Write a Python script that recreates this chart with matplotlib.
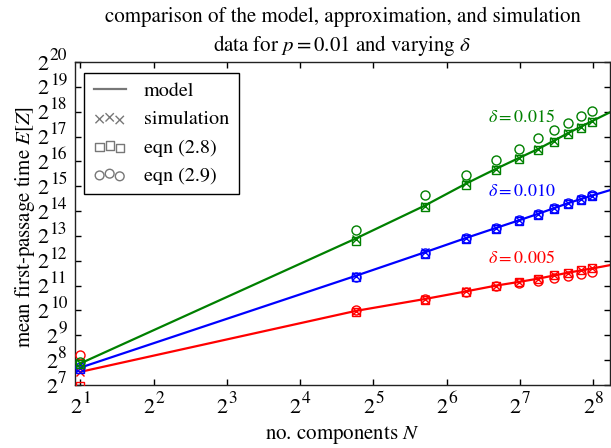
import matplotlib
matplotlib.use("Agg")
import matplotlib.pyplot as plt
from matplotlib.lines import Line2D
import numpy as np

plt.rcParams['font.family'] = ['STIXGeneral', 'DejaVu Serif']
plt.rcParams['mathtext.fontset'] = 'stix'

# data (log2 of E[Z])
N = [2, 27, 52, 77, 102, 127, 152, 177, 202, 227, 252]
N_model = [2, 27, 52, 77, 102, 127, 152, 177, 202, 227, 252, 277, 302]

g_model = [7.87, 12.89, 14.22, 15.11, 15.70, 16.14, 16.50, 16.84, 17.14, 17.39, 17.61, 17.81, 17.99]
g_sim = [7.87, 12.89, 14.22, 15.11, 15.70, 16.14, 16.50, 16.84, 17.14, 17.39, 17.61]
g_e28 = [7.84, 12.78, 14.15, 15.05, 15.64, 16.08, 16.45, 16.80, 17.10, 17.35, 17.57]
g_e29 = [7.92, 13.24, 14.63, 15.47, 16.07, 16.50, 16.94, 17.25, 17.55, 17.81, 18.01]

b_model = [7.70, 11.39, 12.34, 12.92, 13.32, 13.63, 13.89, 14.12, 14.32, 14.48, 14.62, 14.74, 14.85]
b_sim = [7.70, 11.39, 12.34, 12.92, 13.32, 13.63, 13.89, 14.12, 14.32, 14.48, 14.62]
b_e28 = [7.66, 11.33, 12.29, 12.88, 13.28, 13.60, 13.86, 14.09, 14.29, 14.46, 14.60]
b_e29 = [7.72, 11.36, 12.31, 12.90, 13.31, 13.63, 13.89, 14.12, 14.33, 14.50, 14.64]

r_model = [7.53, 9.98, 10.46, 10.77, 11.00, 11.15, 11.28, 11.41, 11.52, 11.61, 11.69, 11.76, 11.83]
r_sim = [7.53, 9.98, 10.46, 10.77, 11.00, 11.15, 11.28, 11.41, 11.52, 11.61, 11.69]
r_e28 = [6.95, 9.93, 10.43, 10.75, 10.99, 11.15, 11.28, 11.41, 11.52, 11.62, 11.70]
r_e29 = [8.19, 10.03, 10.47, 10.76, 10.97, 11.10, 11.20, 11.30, 11.39, 11.47, 11.55]

series = [
    ('#ff0000', r_model, r_sim, r_e28, r_e29, r'$\delta = 0.005$', 0.393),
    ('#0000ff', b_model, b_sim, b_e28, b_e29, r'$\delta = 0.010$', 0.598),
    ('#008000', g_model, g_sim, g_e28, g_e29, r'$\delta = 0.015$', 0.827),
]

# tick exponents (labels are 2^k)
x_exp = [1, 2, 3, 4, 5, 6, 7, 8]
y_exp = list(range(7, 21))

fig = plt.figure(figsize=(6.11, 4.48), dpi=100)
ax = fig.add_axes([75/611, 1-385/448, 535/611, 323/448])

for color, mod, sim, e28, e29, lab, ty in series:
    ax.plot(N_model, 2.0**np.array(mod), '-', color=color, lw=1.6, zorder=2)
    ax.plot(N, 2.0**np.array(sim), 'x', color=color, ms=6, mew=1.0, zorder=3)
    ax.plot(N, 2.0**np.array(e28), 's', mfc='none', mec=color, ms=6, mew=1.0, zorder=3)
    ax.plot(N, 2.0**np.array(e29), 'o', mfc='none', mec=color, ms=6.5, mew=1.0, zorder=3)
    ax.text(0.772, ty, lab, color=color, fontsize=13, transform=ax.transAxes,
            ha='left', va='center')

ax.set_xscale('log', base=2)
ax.set_yscale('log', base=2)
ax.set_xlim(1.9, 300)
ax.set_ylim(2**7, 2**20)
ax.set_xticks([2**k for k in x_exp])
ax.set_yticks([2**k for k in y_exp])
ax.minorticks_off()
ax.tick_params(direction='in', top=True, right=True, length=4, width=1,
               labelleft=False, labelbottom=False)
for s in ax.spines.values():
    s.set_linewidth(1.0)
    s.set_color('#222222')

# custom power-of-two tick labels (larger superscripts)
BASE_FS = 16
EXP_FS = 12.5
GAP = 0.6
renderer = fig.canvas.get_renderer()


def text_width_pt(s, size):
    t = fig.text(0, 0, s, fontsize=size)
    w = t.get_window_extent(renderer=renderer).width * 72.0 / fig.dpi
    t.remove()
    return w


ytr = ax.get_yaxis_transform()
for k in y_exp:
    we = text_width_pt(str(k), EXP_FS)
    pad = 5.8
    ax.annotate(str(k), xy=(0, 2**k), xycoords=ytr, xytext=(-pad, 1.6),
                textcoords='offset points', ha='right', va='baseline',
                fontsize=EXP_FS)
    ax.annotate('2', xy=(0, 2**k), xycoords=ytr, xytext=(-pad - we - GAP, -5.4),
                textcoords='offset points', ha='right', va='baseline',
                fontsize=BASE_FS)

xtr = ax.get_xaxis_transform()
for k in x_exp:
    wb = text_width_pt('2', BASE_FS)
    we = text_width_pt(str(k), EXP_FS)
    tot = wb + GAP + we
    ax.annotate('2', xy=(2**k, 0), xycoords=xtr, xytext=(-tot/2, -20.2),
                textcoords='offset points', ha='left', va='baseline',
                fontsize=BASE_FS)
    ax.annotate(str(k), xy=(2**k, 0), xycoords=xtr, xytext=(-tot/2 + wb + GAP, -12.6),
                textcoords='offset points', ha='left', va='baseline',
                fontsize=EXP_FS)

ax.set_xlabel(r'no. components $N$', fontsize=15)
ax.xaxis.set_label_coords(0.5, -0.122)
ax.set_ylabel(r'mean first-passage time $E[Z]$', fontsize=15)
ax.yaxis.set_label_coords(-0.071, 0.49)
ax.set_title('comparison of the model, approximation, and simulation\n'
             r'data for $p = 0.01$ and varying $\delta$', fontsize=15,
             linespacing=1.3, pad=8)

gray = '#777777'
handles = [
    Line2D([], [], color=gray, lw=1.6),
    ax.scatter([], [], marker='x', color=gray, s=36, linewidths=1.0),
    ax.scatter([], [], marker='s', facecolors='none', edgecolors=gray, s=36, linewidths=1.0),
    ax.scatter([], [], marker='o', facecolors='none', edgecolors=gray, s=40, linewidths=1.0),
]
leg = ax.legend(handles, ['model', 'simulation', 'eqn (2.8)', 'eqn (2.9)'],
                loc='upper left', bbox_to_anchor=(0.017, 0.967), borderaxespad=0,
                fontsize=14.5, scatterpoints=3, fancybox=False, framealpha=1,
                edgecolor='black', handlelength=1.6, handletextpad=0.9,
                labelspacing=0.5, borderpad=0.47)
leg.get_frame().set_linewidth(1.0)

fig.savefig('out.png', dpi=100)
